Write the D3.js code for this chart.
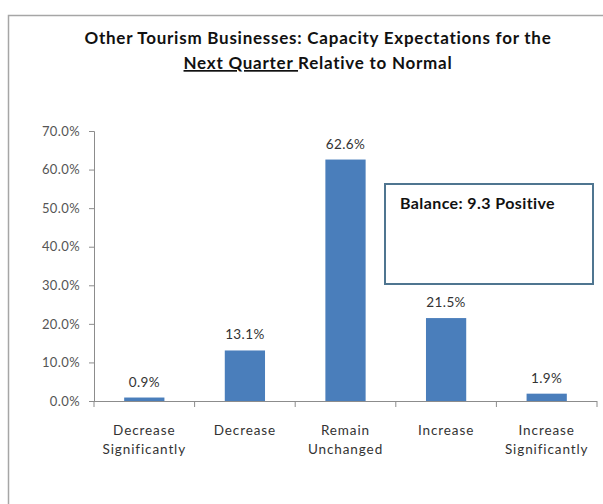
<!DOCTYPE html>
<html><head><meta charset="utf-8">
<script src="https://cdn.jsdelivr.net/npm/d3@7"></script>
<style>body{margin:0;background:#fff}svg{display:block}</style>
</head><body>
<svg id="c" width="603" height="504"></svg>
<script>
const categories = [["Decrease","Significantly"],["Decrease"],["Remain","Unchanged"],["Increase"],["Increase","Significantly"]];
const values = [0.9, 13.1, 62.6, 21.5, 1.9];
const yTicks = [0,10,20,30,40,50,60,70];
const titleLine1 = "Other Tourism Businesses: Capacity Expectations  for the";
const titleUnderlined = "Next Quarter ";
const titleRest = "Relative to Normal";
const balanceText = "Balance: 9.3 Positive";

(function(){
const svg = d3.select("#c");
const font = "Lato, 'Open Sans', sans-serif";

// outer frame
svg.append("path").attr("d","M8.5,504 V15.5 H603").attr("fill","none").attr("stroke","#a6a6a6").attr("stroke-width",1.5);

const pLeft = 94, pRight = 597, pTop = 131, pBottom = 401;
const x = d3.scaleBand().domain(d3.range(values.length)).range([pLeft, pRight]).paddingInner(0.6).paddingOuter(0.3);
const y = d3.scaleLinear().domain([0,70]).range([pBottom, pTop]);

// title
const t = svg.append("text").attr("font-family",font).attr("font-weight","bold").attr("font-size",17).attr("letter-spacing",0.75).attr("fill","#111").attr("text-anchor","middle");
t.append("tspan").attr("x",318).attr("y",44).text(titleLine1);
const t2 = svg.append("text").attr("font-family",font).attr("font-weight","bold").attr("font-size",17).attr("letter-spacing",0.75).attr("fill","#111").attr("text-anchor","middle").attr("x",318).attr("y",69);
t2.append("tspan").attr("text-decoration","underline").style("text-decoration","underline").text(titleUnderlined);
t2.append("tspan").text(titleRest);

// y axis
const yAxis = d3.axisLeft(y).tickValues(yTicks).tickFormat(d => d.toFixed(1)+"%").tickSize(5).tickPadding(9);
const ga = svg.append("g").attr("transform",`translate(${pLeft},0)`).call(yAxis);
ga.select(".domain").attr("stroke","#8c8c8c");
ga.selectAll(".tick line").attr("stroke","#8c8c8c");
ga.selectAll(".tick text").attr("font-family",font).attr("font-size",13).attr("letter-spacing",0.4).attr("fill","#555");

// bars
svg.append("g").selectAll("rect").data(values).join("rect")
  .attr("x",(d,i)=>x(i)).attr("width",x.bandwidth())
  .attr("y",d=>y(d)).attr("height",d=>pBottom-y(d))
  .attr("fill","#4a7ebb");

// x axis
const xa = svg.append("g");
xa.append("line").attr("x1",pLeft).attr("x2",pRight).attr("y1",pBottom+0.5).attr("y2",pBottom+0.5).attr("stroke","#8c8c8c");
const step = (pRight-pLeft)/values.length;
xa.selectAll("line.tk").data(d3.range(values.length+1)).join("line").attr("class","tk")
  .attr("x1",i=>pLeft+i*step).attr("x2",i=>pLeft+i*step).attr("y1",pBottom).attr("y2",pBottom+6).attr("stroke","#8c8c8c");

// value labels
svg.append("g").selectAll("text").data(values).join("text")
  .attr("x",(d,i)=>x(i)+x.bandwidth()/2).attr("y",d=>y(d)-11)
  .attr("text-anchor","middle").attr("font-family",font).attr("font-size",13.5).attr("letter-spacing",0.4).attr("fill","#333")
  .text(d=>d.toFixed(1)+"%");

// category labels
const cl = svg.append("g").selectAll("text").data(categories).join("text")
  .attr("text-anchor","middle").attr("font-family",font).attr("font-size",13.5).attr("letter-spacing",0.9).attr("fill","#333");
cl.each(function(lines,i){
  const el = d3.select(this);
  lines.forEach((ln,j)=>{
    el.append("tspan").attr("x",x(i)+x.bandwidth()/2).attr("y",435+j*19).text(ln);
  });
});

// balance box
svg.append("rect").attr("x",385).attr("y",184).attr("width",208).attr("height",100)
  .attr("fill","#fff").attr("stroke","#4f7590").attr("stroke-width",2);
svg.append("text").attr("x",400).attr("y",209).attr("font-family",font).attr("font-weight","bold")
  .attr("font-size",16).attr("letter-spacing",0.4).attr("fill","#111").text(balanceText);
})();
</script>
</body></html>
